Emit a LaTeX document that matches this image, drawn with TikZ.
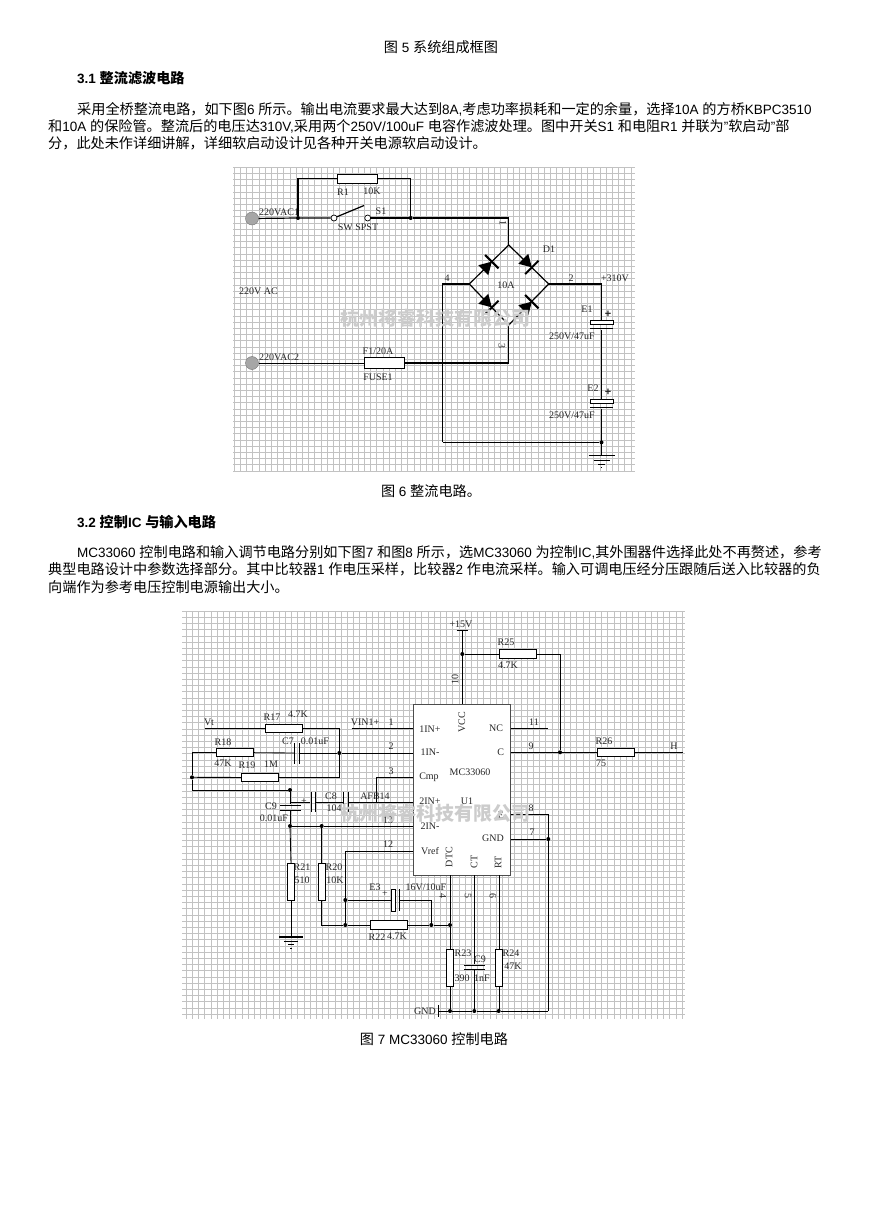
\documentclass[tikz,border=0pt]{standalone}
\usepackage{fontspec}
\setmainfont{Liberation Sans}
\newfontfamily\schfont{Liberation Serif}
\newfontfamily\cjkfont{Noto Sans CJK SC}
\newcommand{\zh}[1]{{\cjkfont\fontsize{14.15}{15}\selectfont #1}}
\newcommand{\zhb}[1]{{\cjkfont\bfseries\fontsize{14.15}{15}\selectfont #1}}

\tikzstyle{gridline} = [black!24, line width=.6pt]
\tikzstyle{wire} = [black, line width=1.2pt, line join=miter]
\tikzstyle{thinwire} = [black, line width=.85pt]
\tikzstyle{para} = [anchor=west, inner sep=0pt, font=\fontsize{13.5}{15}\selectfont]
\tikzstyle{lab} = [inner sep=0pt, text=black!85, font=\schfont\fontsize{10}{10}\selectfont]
\tikzstyle{pinno} = [lab]
\tikzstyle{junction} = [circle, fill=black, inner sep=0pt, minimum size=4pt]
\tikzstyle{terminal} = [circle, draw=black!55, fill=black!35, inner sep=0pt, minimum size=13pt]
\tikzstyle{contact} = [circle, draw=black, fill=white, line width=.7pt, inner sep=0pt, minimum size=6pt]
\tikzstyle{resh} = [draw=black, fill=white, line width=.85pt, inner sep=0pt, minimum width=37pt, minimum height=8.5pt]
\tikzstyle{resv} = [draw=black, fill=white, line width=.85pt, inner sep=0pt, minimum width=7.5pt, minimum height=37pt]
\tikzstyle{eplate} = [draw=black, fill=white, line width=1pt, inner sep=0pt, minimum width=23pt, minimum height=4pt]
\tikzstyle{bar} = [fill=black, inner sep=0pt, minimum width=23pt, minimum height=1.3pt]
\tikzstyle{vbar} = [fill=black, inner sep=0pt, minimum width=.9pt, minimum height=20pt]
\tikzstyle{hbar} = [fill=black, inner sep=0pt, minimum width=21pt, minimum height=.9pt]
\tikzstyle{watermark} = [inner sep=0pt, text=black!20, font=\cjkfont\bfseries\fontsize{19}{19}\selectfont]

\tikzset{
  diode/.pic={
    \fill[black] (-8,-7) -- (4,0) -- (-8,7) -- cycle;
    \draw[black, line width=2pt] (4,-9.5) -- (4,9.5);
  },
  gnd/.pic={
    \draw[black, line width=1.1pt] (-13,0) -- (13,0);
    \draw[black, line width=.9pt] (-8,4.5) -- (8,4.5);
    \draw[black, line width=.8pt] (-3.5,8.5) -- (3.5,8.5);
    \draw[black, line width=.6pt] (-.7,12) -- (.7,12);
  }
}

\begin{document}
\begin{tikzpicture}[x=1pt,y=-1pt]
  \useasboundingbox (0,0) rectangle (868,1228);
  % page text
  \node[para, anchor=center] (cap5) at (441,47) {\zh{图} 5 \zh{系统组成框图}};
  \node[para] (head31) at (77,78) {\textbf{3.1} \zhb{整流滤波电路}};
  \node[para] (p1a) at (77,109) {\zh{采用全桥整流电路，如下图}6 \zh{所示。输出电流要求最大达到}8A,\zh{考虑功率损耗和一定的余量，选择}10A \zh{的方桥}KBPC3510};
  \node[para] (p1b) at (48,126) {\zh{和}10A \zh{的保险管。整流后的电压达}310V,\zh{采用两个}250V/100uF \zh{电容作滤波处理。图中开关}S1 \zh{和电阻}R1 \zh{并联为}"\zh{软启动}"\zh{部}};
  \node[para] (p1c) at (48,143) {\zh{分，此处未作详细讲解，详细软启动设计见各种开关电源软启动设计。}};
  \node[para, anchor=center] (cap6) at (431,491) {\zh{图} 6 \zh{整流电路。}};
  \node[para] (head32) at (77,522) {\textbf{3.2} \zhb{控制}\textbf{IC} \zhb{与输入电路}};
  \node[para] (p2a) at (77,552) {MC33060 \zh{控制电路和输入调节电路分别如下图}7 \zh{和图}8 \zh{所示，选}MC33060 \zh{为控制}IC,\zh{其外围器件选择此处不再赘述，参考}};
  \node[para] (p2b) at (48,569) {\zh{典型电路设计中参数选择部分。其中比较器}1 \zh{作电压采样，比较器}2 \zh{作电流采样。输入可调电压经分压跟随后送入比较器的负}};
  \node[para] (p2c) at (48,587) {\zh{向端作为参考电压控制电源输出大小。}};
  \node[para, anchor=center] (cap7) at (434,1039) {\zh{图} 7 MC33060 \zh{控制电路}};

  % grids
  \foreach \i in {0,...,64} \draw[gridline] ({234+\i*6.2},167) -- ({234+\i*6.2},471);
  \foreach \i in {0,...,49} \draw[gridline] (233,{167+\i*6.2}) -- (635,{167+\i*6.2});
  \foreach \i in {0,...,80} \draw[gridline] ({186+\i*6.2},611) -- ({186+\i*6.2},1019);
  \foreach \i in {0,...,65} \draw[gridline] (182,{611+\i*6.2}) -- (685,{611+\i*6.2});

  % rectifier
  \node[terminal] (ac1) at (252,218.5) {};
  \node[terminal] (ac2) at (252,363) {};
  \node[junction] (j1) at (298,218) {};
  \node[junction] (j2) at (410.7,218) {};
  \node[contact] (s1a) at (334,218) {};
  \node[contact] (s1b) at (367.7,218) {};
  \coordinate (s1tip) at (364,205.5);
  \node[resh, minimum width=40pt] (R1) at (357.7,178.7) {};
  \node[resh, minimum width=40pt, minimum height=10.5pt] (F1) at (384,363) {};
  \coordinate (top) at (508.7,245);
  \coordinate (lft) at (469.3,284);
  \coordinate (rgt) at (548.7,284);
  \coordinate (bot) at (508.7,325);
  \coordinate (c4) at (442.7,284);
  \coordinate (c2) at (601.5,284);
  \node[eplate] (E1) at (601.5,322) {};
  \node[bar] (E1b) at (601.5,328.7) {};
  \node[eplate] (E2) at (601.5,401.3) {};
  \node[bar] (E2b) at (601.5,407.7) {};
  \node[junction] (j3) at (601.5,442.3) {};
  \draw[wire] (ac1) -- (j1) -- (s1a);
  \draw[wire] (j1) |- (R1) (R1) -| (j2);
  \draw[wire] (s1a) -- (s1tip);
  \draw[wire] (s1b) -- (j2) -- (508.7,218) -- (top);
  \draw[wire] (top) -- (lft) -- (bot) -- (rgt) -- cycle;
  \draw[wire] (lft) -- (c4) -- (442.7,442.3);
  \draw[wire] (rgt) -- (c2) -- (E1);
  \draw[wire] (E1b) -- (E2);
  \draw[wire] (E2b) -- (601.5,455.7);
  \draw[thinwire] (442.7,442.3) -- (j3);
  \draw[thinwire] (ac2) -- (F1);
  \draw[wire] (F1) -| (bot);
  \pic at (489,264.5) [rotate=45] {diode};
  \pic at (529,264.5) [rotate=-45] {diode};
  \pic at (489,304.5) [rotate=-45] {diode};
  \pic at (529,304.5) [rotate=45] {diode};
  \pic at (601.5,455.7) {gnd};
  \node[lab, anchor=west] (lac1) at (259,212) {220VAC1};
  \node[lab, anchor=west] (lac2) at (259,357) {220VAC2};
  \node[lab, anchor=west] (lac) at (239,291) {220V AC};
  \node[lab] (lr1) at (343,192) {R1};
  \node[lab] (l10k) at (372,191) {10K};
  \node[lab] (ls1) at (381,211) {S1};
  \node[lab] (lsw) at (358,227) {SW SPST};
  \node[lab] (lf1) at (378,351) {F1/20A};
  \node[lab] (lfuse) at (378,377) {FUSE1};
  \node[pinno, rotate=-90] (m1) at (503,223) {1};
  \node[pinno, rotate=-90] (m3) at (502,346) {3};
  \node[pinno] (m4) at (447,278) {4};
  \node[pinno] (m2) at (571,278) {2};
  \node[lab] (ld1) at (549,249) {D1};
  \node[lab] (l10a) at (506,285) {10A};
  \node[lab] (l310) at (615,278) {+310V};
  \node[lab] (le1) at (587,309) {E1};
  \node[lab] (le2) at (593,388) {E2};
  \node[lab] (lc1) at (572,336) {250V/47uF};
  \node[lab] (lc2) at (572,415) {250V/47uF};
  \node[lab, font=\bfseries\fontsize{11}{11}\selectfont] (pe1) at (608,314) {+};
  \node[lab, font=\bfseries\fontsize{11}{11}\selectfont] (pe2) at (608,392) {+};
  \node[watermark] (wm1) at (435,318) {杭州将睿科技有限公司};

  % control circuit
  \coordinate (vt) at (205,728.3);
  \node[junction] (n1) at (339.3,753) {};
  \node[junction] (n2) at (192,777.3) {};
  \node[junction] (n3) at (290,790) {};
  \node[junction] (n4) at (290,826) {};
  \node[junction] (n5) at (321.7,826) {};
  \node[junction] (n6) at (345.3,900) {};
  \node[junction] (n7) at (345.3,925) {};
  \node[junction] (n8) at (431.3,925) {};
  \node[junction] (n9) at (450,925) {};
  \node[junction] (n10) at (462.3,654) {};
  \node[junction] (n11) at (560,752.3) {};
  \node[junction] (n12) at (548.3,839) {};
  \node[junction] (n13) at (450,1011) {};
  \node[junction] (n14) at (474.3,1011) {};
  \node[junction] (n15) at (498.7,1011) {};
  \node[resh] (R17) at (284.3,728.3) {};
  \node[resh] (R18) at (235,752.5) {};
  \node[resh] (R19) at (260,777.5) {};
  \node[resh] (R22) at (389.2,925) {};
  \node[resh] (R25) at (518,654) {};
  \node[resh] (R26) at (615.8,752.3) {};
  \node[resv] (R21) at (291,882) {};
  \node[resv] (R20) at (321.7,882) {};
  \node[resv] (R23) at (450,968) {};
  \node[resv] (R24) at (499,968) {};
  \node[vbar, minimum height=21pt] (C7a) at (294.7,753) {};
  \node[vbar, minimum height=21pt] (C7b) at (299.3,753) {};
  \node[vbar] (C8a) at (311,802) {};
  \node[vbar] (C8b) at (315.7,802) {};
  \node[vbar] (C8c) at (343.3,802) {};
  \node[vbar] (C8d) at (348.3,802) {};
  \node[hbar] (C9a) at (290,805) {};
  \node[hbar] (C9b) at (290,810.7) {};
  \node[hbar] (C9c) at (474.3,965) {};
  \node[hbar] (C9d) at (474.3,969.3) {};
  \node[draw=black, fill=white, line width=.7pt, inner sep=0pt, minimum width=3.4pt, minimum height=22pt] (E3a) at (393.4,900) {};
  \node[vbar, minimum height=22pt] (E3b) at (399.3,900) {};
  \node[draw=black!70, fill=white, line width=.7pt, inner sep=0pt, minimum width=97.4pt, minimum height=171.3pt] (U1) at (462,789.6) {};
  \draw[thinwire] (vt) -- (R17);
  \draw[thinwire] (R17) -| (n1);
  \draw[thinwire] (n1) |- (R19);
  \draw[thinwire] (R19) -- (n2);
  \draw[thinwire] (n2) -- (192,752.5) -- (R18);
  \draw[thinwire] (n2) -- (192,790) -- (n3);
  \draw[thinwire] (R18) -- (C7a);
  \draw[thinwire] (C7b) -- (n1);
  \draw[thinwire] (n1) -- (413.3,753);
  \draw[thinwire] (351.7,728.3) -- (413.3,728.3);
  \draw[thinwire] (n3) -- (C9a);
  \draw[thinwire] (C9b) -- (n4);
  \draw[thinwire] (290,802) -- (C8a);
  \draw[thinwire] (C8b) -- (C8c);
  \draw[thinwire] (C8d) -- (413.3,802);
  \draw[thinwire] (376.7,802) |- (413.3,777.3);
  \draw[thinwire] (n4) -- (n5) -- (413.3,826);
  \draw[thinwire] (n4) -- (291,863.5);
  \draw[thinwire] (R21) -- (291,937);
  \draw[thinwire] (n5) -- (R20);
  \draw[thinwire] (R20) -- (321.7,925) -- (n7);
  \draw[thinwire] (n7) -- (R22);
  \draw[thinwire] (R22) -- (n8) -- (n9);
  \draw[thinwire] (413.3,851.3) -| (n6);
  \draw[thinwire] (n6) -- (n7);
  \draw[thinwire] (n6) -- (E3a);
  \draw[thinwire] (E3b) -| (n8);
  \draw[thinwire] (450,875.3) -- (n9);
  \draw[thinwire] (n9) -- (R23);
  \draw[thinwire] (R23) -- (n13);
  \draw[thinwire] (474.3,875.3) -- (C9c);
  \draw[thinwire] (C9d) -- (n14);
  \draw[thinwire] (499,875.3) -- (R24);
  \draw[thinwire] (R24) -- (499,1011);
  \draw[thinwire] (438.3,1011) -- (n13) -- (n14) -- (n15) -- (548.3,1011);
  \draw[thinwire] (438.3,1005) -- (438.3,1017);
  \draw[thinwire] (548.3,1011) -- (n12) -- (548.3,814.5) -- (510.7,814.5);
  \draw[thinwire] (510.7,839) -- (n12);
  \draw[thinwire] (510.7,728.3) -- (548,728.3);
  \draw[thinwire] (510.7,752.3) -- (n11) -- (R26);
  \draw[thinwire] (R26) -- (683,752.3);
  \draw[thinwire] (456.7,630.7) -- (468,630.7);
  \draw[thinwire] (462.3,630.7) -- (n10) -- (462.3,704);
  \draw[thinwire] (n10) -- (R25);
  \draw[thinwire] (R25) -| (n11);
  \pic at (291,937) [scale=.9] {gnd};
  \node[lab] (l15) at (461,624) {+15V};
  \node[lab] (l25) at (506,642) {R25};
  \node[lab] (l47a) at (508,665) {4.7K};
  \node[pinno, rotate=90] (m10) at (455,679) {10};
  \node[lab, rotate=90] (lvcc) at (462,722) {VCC};
  \node[lab] (lnc) at (496,728) {NC};
  \node[lab] (lc) at (500.7,752) {C};
  \node[lab] (lmc) at (470,772) {MC33060};
  \node[lab] (lu1) at (467,801) {U1};
  \node[lab] (le) at (501,815) {E};
  \node[lab] (lgnd) at (493,838) {GND};
  \node[lab] (lin1) at (430,729) {1IN+};
  \node[lab] (lin2) at (430,752) {1IN-};
  \node[lab] (lcmp) at (429,777) {Cmp};
  \node[lab] (lin3) at (430,801) {2IN+};
  \node[lab] (lin4) at (430,826) {2IN-};
  \node[lab] (lvref) at (430,851) {Vref};
  \node[lab, rotate=90] (ldtc) at (449,857) {DTC};
  \node[lab, rotate=90] (lct) at (474,862) {CT};
  \node[lab, rotate=90] (lrt) at (498,862) {RT};
  \node[lab] (lvin) at (365,722) {VIN1+};
  \node[pinno] (m1b) at (391,722) {1};
  \node[pinno] (m2b) at (391,746) {2};
  \node[pinno] (m3b) at (391,771) {3};
  \node[lab] (lafb) at (375,796) {AFB14};
  \node[pinno] (m13) at (388,820) {13};
  \node[pinno] (m12) at (388,844) {12};
  \node[pinno] (m11) at (534,722) {11};
  \node[pinno] (m9) at (531,746) {9};
  \node[pinno] (m8) at (531,808) {8};
  \node[pinno] (m7) at (532,832) {7};
  \node[pinno, rotate=-90] (m4b) at (443,896) {4};
  \node[pinno, rotate=-90] (m5) at (468,896) {5};
  \node[pinno, rotate=-90] (m6) at (493,896) {6};
  \node[lab] (lvt) at (209,722) {Vt};
  \node[lab] (l17) at (272,717) {R17};
  \node[lab] (l47b) at (298,714) {4.7K};
  \node[lab] (l18) at (223,742) {R18};
  \node[lab] (l47c) at (223,763) {47K};
  \node[lab] (l19) at (247,765) {R19};
  \node[lab] (l1m) at (271,764) {1M};
  \node[lab] (lc7) at (288,741) {C7};
  \node[lab] (l001a) at (315,741) {0.01uF};
  \node[lab] (lc8) at (331,796) {C8};
  \node[lab] (l104) at (334,808) {104};
  \node[lab] (lc9) at (271,806) {C9};
  \node[lab] (l001b) at (274,818) {0.01uF};
  \node[lab] (lpc8) at (304,802) {+};
  \node[lab] (l21) at (302,867) {R21};
  \node[lab] (l510) at (302,880) {510};
  \node[lab] (l20) at (334,867) {R20};
  \node[lab] (l10k2) at (335,880) {10K};
  \node[lab] (le3) at (375,887) {E3};
  \node[lab] (lpe3) at (385,894) {+};
  \node[lab] (l16v) at (426,887) {16V/10uF};
  \node[lab] (l22) at (377,937) {R22};
  \node[lab] (l47d) at (397,936) {4.7K};
  \node[lab] (l23) at (463,953) {R23};
  \node[lab] (l390) at (462,978) {390};
  \node[lab] (lc9b) at (480,959) {C9};
  \node[lab] (l1nf) at (482,978) {1nF};
  \node[lab] (l24) at (511,953) {R24};
  \node[lab] (l47e) at (513,966) {47K};
  \node[lab] (lgnd2) at (425,1011) {GND};
  \node[lab] (l26) at (604,741) {R26};
  \node[lab] (l75) at (601,763) {75};
  \node[lab] (lh) at (674,746) {H};
  \node[watermark] (wm2) at (435,813) {杭州将睿科技有限公司};
\end{tikzpicture}
\end{document}
